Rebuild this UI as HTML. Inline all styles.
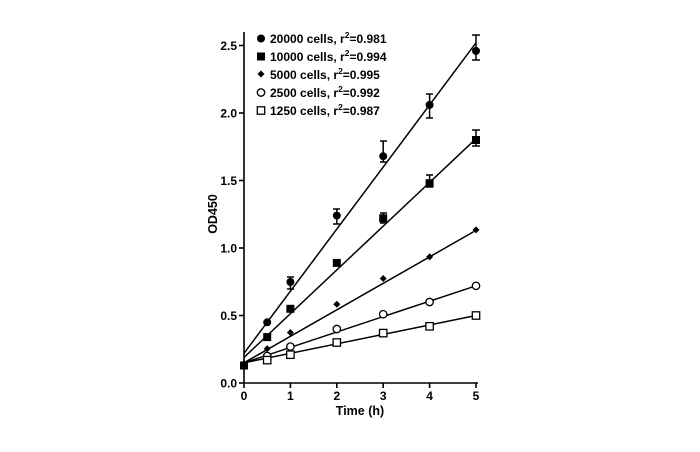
<!DOCTYPE html>
<html><head><meta charset="utf-8"><style>body{margin:0;background:#fff}</style></head><body>
<svg width="700" height="447" xmlns="http://www.w3.org/2000/svg" font-family="Liberation Sans, Arial, sans-serif" font-weight="bold">
<g stroke="#000" stroke-width="1.6" fill="none">
<line x1="244" y1="32" x2="244" y2="384"/>
<line x1="243" y1="383" x2="478" y2="383"/>
<line x1="239" y1="383" x2="244" y2="383"/><line x1="239" y1="315.5" x2="244" y2="315.5"/><line x1="239" y1="248" x2="244" y2="248"/><line x1="239" y1="180.5" x2="244" y2="180.5"/><line x1="239" y1="113" x2="244" y2="113"/><line x1="239" y1="45.5" x2="244" y2="45.5"/>
<line x1="244" y1="383" x2="244" y2="388"/><line x1="290.4" y1="383" x2="290.4" y2="388"/><line x1="336.8" y1="383" x2="336.8" y2="388"/><line x1="383.2" y1="383" x2="383.2" y2="388"/><line x1="429.6" y1="383" x2="429.6" y2="388"/><line x1="476" y1="383" x2="476" y2="388"/>
</g>
<g font-size="12" text-anchor="end">
<text x="237" y="387.5">0.0</text><text x="237" y="320">0.5</text><text x="237" y="252.5">1.0</text><text x="237" y="185">1.5</text><text x="237" y="117.5">2.0</text><text x="237" y="50">2.5</text>
</g>
<g font-size="12" text-anchor="middle">
<text x="244" y="400">0</text><text x="290.4" y="400">1</text><text x="336.8" y="400">2</text><text x="383.2" y="400">3</text><text x="429.6" y="400">4</text><text x="476" y="400">5</text>
<text x="360" y="415" font-size="12.5">Time (h)</text>
<text transform="translate(217,214) rotate(-90)" font-size="12.5">OD450</text>
</g>
<g stroke="#000" stroke-width="1.5">
<line x1="244" y1="353.3" x2="476" y2="42.8"/>
<line x1="244" y1="357.4" x2="476" y2="138.7"/>
<line x1="244" y1="362.8" x2="476" y2="230.4"/>
<line x1="244" y1="362.8" x2="476" y2="285.8"/>
<line x1="244" y1="362.8" x2="476" y2="315.5"/>
<path d="M476 35V60M472 35H480M472 60H480M429.6 94V118M426 94H433M426 118H433M383.2 141V162M380 141H387M380 162H387M336.8 209V224M333 209H340M333 224H340M476 130V146M472 130H480M472 146H480M429.6 175V187M426 175H433M426 187H433M290.4 277V289M287 277H294M287 289H294M383.2 213V223M380 213H387M380 223H387" fill="none"/>
</g>
<g fill="#000">
<circle cx="244" cy="365.5" r="4"/><circle cx="267.2" cy="322.3" r="4"/><circle cx="290.4" cy="282" r="4"/><circle cx="336.8" cy="215.6" r="4"/><circle cx="383.2" cy="156.2" r="4"/><circle cx="429.6" cy="104.9" r="4"/><circle cx="476" cy="50.9" r="4"/>
<g transform="translate(-4,-4)"><rect x="244" y="365.5" width="8" height="8"/><rect x="267.2" y="337.1" width="8" height="8"/><rect x="290.4" y="308.8" width="8" height="8"/><rect x="336.8" y="262.9" width="8" height="8"/><rect x="383.2" y="218.3" width="8" height="8"/><rect x="429.6" y="183.2" width="8" height="8"/><rect x="476" y="140" width="8" height="8"/></g>
<path d="M244 360.1l3.5 3.5-3.5 3.5-3.5-3.5zM267.2 345.3l3.5 3.5-3.5 3.5-3.5-3.5zM290.4 329l3.5 3.5-3.5 3.5-3.5-3.5zM336.8 300.7l3.5 3.5-3.5 3.5-3.5-3.5zM383.2 275l3.5 3.5-3.5 3.5-3.5-3.5zM429.6 253.4l3.5 3.5-3.5 3.5-3.5-3.5zM476 226.4l3.5 3.5-3.5 3.5-3.5-3.5z"/>
</g>
<g fill="#fff" stroke="#000" stroke-width="1.3">
<circle cx="267.2" cy="356" r="3.7"/><circle cx="290.4" cy="346.6" r="3.7"/><circle cx="336.8" cy="329" r="3.7"/><circle cx="383.2" cy="314.2" r="3.7"/><circle cx="429.6" cy="302" r="3.7"/><circle cx="476" cy="285.8" r="3.7"/>
<g transform="translate(-3.7,-3.7)"><rect x="267.2" y="360.1" width="7.4" height="7.4"/><rect x="290.4" y="354.7" width="7.4" height="7.4"/><rect x="336.8" y="342.5" width="7.4" height="7.4"/><rect x="383.2" y="333.1" width="7.4" height="7.4"/><rect x="429.6" y="326.3" width="7.4" height="7.4"/><rect x="476" y="315.5" width="7.4" height="7.4"/></g>
</g>
<rect x="240" y="361.5" width="8" height="8" fill="#000"/>
<circle cx="261" cy="38.5" r="4" fill="#000"/>
<rect x="257" y="52.5" width="8" height="8" fill="#000"/>
<path d="M261 70.5l3.5 3.5-3.5 3.5-3.5-3.5z" fill="#000"/>
<circle cx="261" cy="92.5" r="3.7" fill="#fff" stroke="#000" stroke-width="1.3"/>
<rect x="257.3" y="106.8" width="7.4" height="7.4" fill="#fff" stroke="#000" stroke-width="1.3"/>
<g font-size="12">
<text x="270" y="43">20000 cells, r<tspan font-size="8.5" dy="-5">2</tspan><tspan dy="5">=0.981</tspan></text>
<text x="270" y="61">10000 cells, r<tspan font-size="8.5" dy="-5">2</tspan><tspan dy="5">=0.994</tspan></text>
<text x="270" y="79">5000 cells, r<tspan font-size="8.5" dy="-5">2</tspan><tspan dy="5">=0.995</tspan></text>
<text x="270" y="97">2500 cells, r<tspan font-size="8.5" dy="-5">2</tspan><tspan dy="5">=0.992</tspan></text>
<text x="270" y="115">1250 cells, r<tspan font-size="8.5" dy="-5">2</tspan><tspan dy="5">=0.987</tspan></text>
</g>
</svg>
</body></html>
